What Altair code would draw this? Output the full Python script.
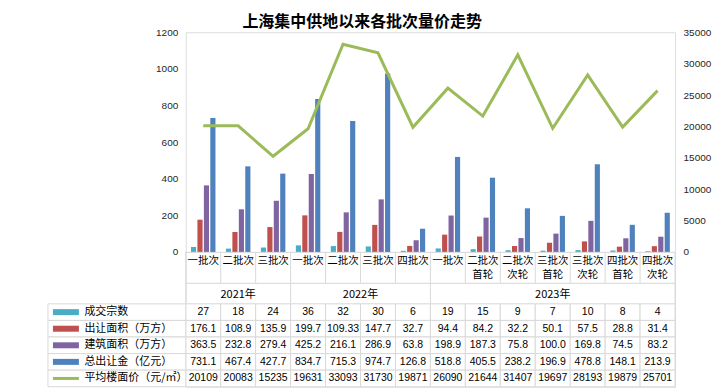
import altair as alt
import pandas as pd

title_text = "上海集中供地以来各批次量价走势"
categories = ["一批次", "二批次", "三批次", "一批次", "二批次", "三批次", "四批次",
              "一批次", "二批次\n首轮", "二批次\n次轮", "三批次\n首轮", "三批次\n次轮",
              "四批次\n首轮", "四批次\n次轮"]
years = ["2021年"] * 3 + ["2022年"] * 4 + ["2023年"] * 7
series_names = ["成交宗数", "出让面积（万方）", "建筑面积（万方）", "总出让金（亿元）", "平均楼面价（元/㎡）"]
counts = [27, 18, 24, 36, 32, 30, 6, 19, 15, 9, 7, 10, 8, 4]
sell_area = [176.1, 108.9, 135.9, 199.7, 109.33, 147.7, 32.7, 94.4, 84.2, 32.2, 50.1, 57.5, 28.8, 31.4]
build_area = [363.5, 232.8, 279.4, 425.2, 216.1, 286.9, 63.8, 198.9, 187.3, 75.8, 100.0, 169.8, 74.5, 83.2]
total_price = [731.1, 467.4, 427.7, 834.7, 715.3, 974.7, 126.8, 518.8, 405.5, 238.2, 196.9, 478.8, 148.1, 213.9]
avg_price = [20109, 20083, 15235, 19631, 33093, 31730, 19871, 26090, 21644, 31407, 19697, 28193, 19879, 25701]
left_ticks = [0, 200, 400, 600, 800, 1000, 1200]
right_ticks = [0, 5000, 10000, 15000, 20000, 25000, 30000, 35000]
colors = ["#4BACC6", "#C0504D", "#8064A2", "#4F81BD", "#9BBB59"]

GRID = "#d9d9d9"
CJK = "Noto Sans CJK SC"
NUM = "Liberation Sans"
n = len(categories)
keys = [f"{i}|{y}|{c}" for i, (y, c) in enumerate(zip(years, categories))]
bar_series = series_names[:4]
bar_vals = [counts, sell_area, build_area, total_price]

bar_df = pd.DataFrame([{"key": keys[i], "series": s, "value": v[i]}
                       for s, v in zip(bar_series, bar_vals) for i in range(n)])
line_df = pd.DataFrame({"key": keys, "price": avg_price})

x_band = alt.X("key:N", sort=keys,
               scale=alt.Scale(paddingInner=0.3, paddingOuter=0.15),
               axis=alt.Axis(title=None, labels=False, ticks=False, domain=True,
                             domainColor=GRID, grid=False))
color_scale = alt.Scale(domain=series_names, range=colors)

bars = alt.Chart(bar_df).mark_bar().encode(
    x=x_band,
    xOffset=alt.XOffset("series:N", sort=bar_series, scale=alt.Scale(paddingInner=0.2)),
    y=alt.Y("value:Q", scale=alt.Scale(domain=[0, 1200]),
            axis=alt.Axis(title=None, values=left_ticks, format="d", grid=False, domain=False,
                          ticks=False, labelPadding=8, labelFont=NUM, labelFontSize=10,
                          labelColor="#262626")),
    color=alt.Color("series:N", scale=color_scale, legend=None),
)
line = alt.Chart(line_df).mark_line(color=colors[4], strokeWidth=3, strokeJoin="miter").encode(
    x=x_band,
    y=alt.Y("price:Q", scale=alt.Scale(domain=[0, 35000]),
            axis=alt.Axis(title=None, orient="right", values=right_ticks, format="d", grid=False,
                          domain=False, ticks=False, labelPadding=8, labelFont=NUM,
                          labelFontSize=10, labelColor="#262626")),
)
top = alt.layer(bars, line).resolve_scale(y="independent").properties(width=490, height=220)


def xq(field):
    return alt.X(field, type="quantitative",
                 scale=alt.Scale(domain=[0, n], nice=False, zero=False), axis=None)


bnd_df = pd.DataFrame({"b": list(range(n + 1))})
cat_df = pd.DataFrame({"i0": list(range(n)), "i1": [i + 1 for i in range(n)],
                       "mid": [i + 0.5 for i in range(n)], "label": categories})

cat_row = alt.layer(
    alt.Chart(bnd_df).mark_rule(color=GRID).encode(x=xq("b")),
    alt.Chart(cat_df).mark_text(font=CJK, fontSize=10.5, lineBreak="\n", lineHeight=14,
                                baseline="top", dy=-11, color="black").encode(
        x=xq("mid"), text="label:N"),
).properties(width=490, height=31)

year_list = []
for y in years:
    if y not in year_list:
        year_list.append(y)
starts = [years.index(y) for y in year_list]
ends = [years.index(y) + years.count(y) for y in year_list]
year_df = pd.DataFrame({"year": year_list, "mid": [(s + e) / 2 for s, e in zip(starts, ends)]})
ybnd_df = pd.DataFrame({"b": [0] + ends})

year_row = alt.layer(
    alt.Chart(ybnd_df).mark_rule(color=GRID).encode(x=xq("b")),
    alt.Chart(year_df).mark_text(font=CJK, fontSize=11, dy=2, color="black").encode(
        x=xq("mid"), text="year:N"),
).properties(width=490, height=21)


def fmt(v):
    return str(v)


all_vals = [counts, sell_area, build_area, total_price, avg_price]
cell_df = pd.DataFrame([{"row": s, "i0": i, "i1": i + 1, "mid": i + 0.5, "txt": fmt(v[i])}
                        for s, v in zip(series_names, all_vals) for i in range(n)])
leg_df = pd.DataFrame({"row": series_names, "sw": [6, 6, 6, 6, 3]})

y_rows = alt.Y("row:N", sort=series_names, scale=alt.Scale(paddingInner=0, paddingOuter=0),
               axis=alt.Axis(title=None, domain=False, ticks=False, labelAlign="left",
                             labelPadding=102, labelFont=CJK, labelFontSize=11,
                             labelColor="black", labelLimit=0))

table = alt.layer(
    alt.Chart(cell_df).mark_rect(fill="white", stroke=GRID, strokeWidth=1).encode(
        x=xq("i0"), x2="i1", y=y_rows),
    alt.Chart(leg_df).mark_rect(fill="white", stroke=GRID, strokeWidth=1).encode(
        y=y_rows, x=alt.value(-138), x2=alt.value(0)),
    alt.Chart(leg_df).mark_rule(strokeCap="butt").encode(
        y=y_rows, x=alt.value(-133), x2=alt.value(-107),
        color=alt.Color("row:N", scale=color_scale, legend=None),
        strokeWidth=alt.StrokeWidth("sw:Q", scale=None)),
    alt.Chart(cell_df).mark_text(font=NUM, fontSize=10.5, color="black").encode(
        x=xq("mid"), y=y_rows, text="txt:N"),
).properties(width=490, height=83)

chart = alt.vconcat(top, cat_row, year_row, table, spacing=0, bounds="flush").properties(
    title=alt.TitleParams(title_text, font=CJK, fontSize=16, fontWeight="bold",
                          anchor="middle", dx=-17, offset=-3, color="black"),
    padding={"left": 39, "top": 5, "right": 5, "bottom": 5},
).configure_view(stroke=None).configure(background="white")

chart.save("out.html", embed_options={"renderer": "svg", "actions": False})
